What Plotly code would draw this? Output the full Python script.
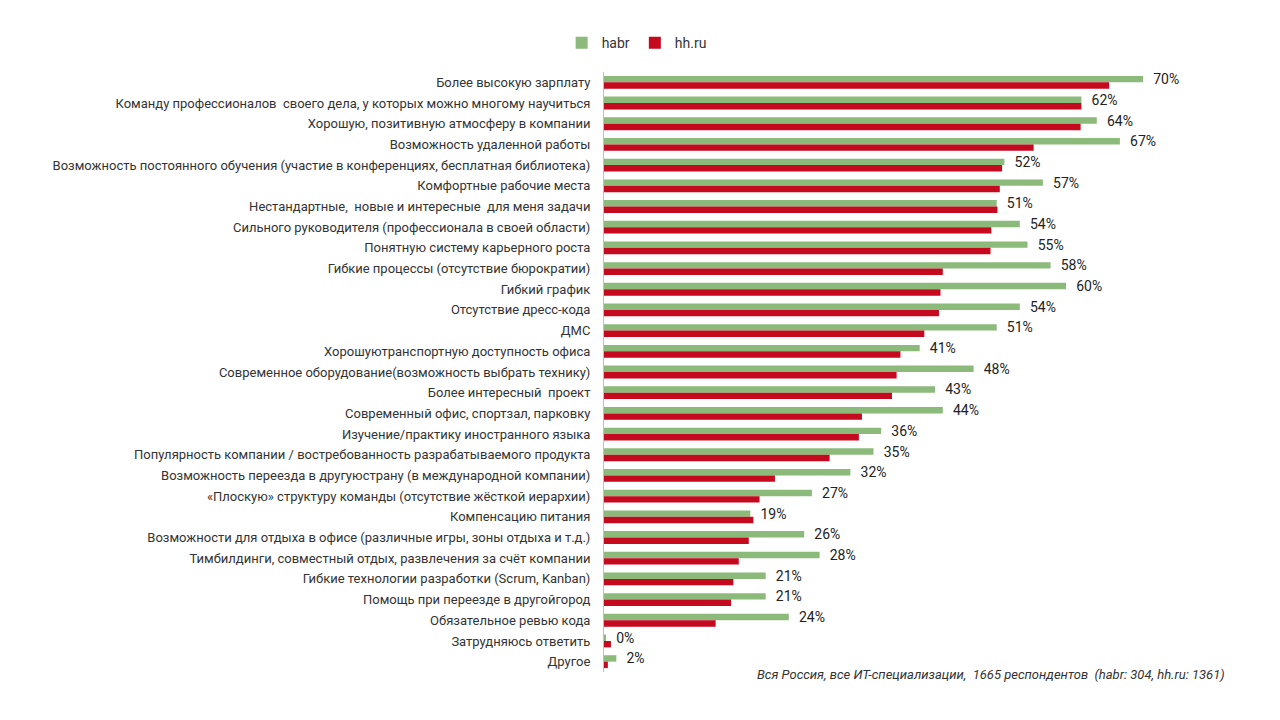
import plotly.graph_objects as go

categories = [
    "Более высокую зарплату",
    "Команду профессионалов  своего дела, у которых можно многому научиться",
    "Хорошую, позитивную атмосферу в компании",
    "Возможность удаленной работы",
    "Возможность постоянного обучения (участие в конференциях, бесплатная библиотека)",
    "Комфортные рабочие места",
    "Нестандартные,  новые и интересные  для меня задачи",
    "Сильного руководителя (профессионала в своей области)",
    "Понятную систему карьерного роста",
    "Гибкие процессы (отсутствие бюрократии)",
    "Гибкий график",
    "Отсутствие дресс-кода",
    "ДМС",
    "Хорошуютранспортную доступность офиса",
    "Современное оборудование(возможность выбрать технику)",
    "Более интересный  проект",
    "Современный офис, спортзал, парковку",
    "Изучение/практику иностранного языка",
    "Популярность компании / востребованность разрабатываемого продукта",
    "Возможность переезда в другуюстрану (в международной компании)",
    "«Плоскую» структуру команды (отсутствие жёсткой иерархии)",
    "Компенсацию питания",
    "Возможности для отдыха в офисе (различные игры, зоны отдыха и т.д.)",
    "Тимбилдинги, совместный отдых, развлечения за счёт компании",
    "Гибкие технологии разработки (Scrum, Kanban)",
    "Помощь при переезде в другойгород",
    "Обязательное ревью кода",
    "Затрудняюсь ответить",
    "Другое",
]

habr = [70, 62, 64, 67, 52, 57, 51, 54, 55, 58, 60, 54, 51, 41, 48, 43, 44,
        36, 35, 32, 27, 19, 26, 28, 21, 21, 24, 0.2, 1.6]

hh = [65.6, 62.0, 61.9, 55.8, 51.7, 51.4, 51.1, 50.3, 50.2, 44.0, 43.7, 43.5,
      41.6, 38.5, 38.0, 37.4, 33.5, 33.1, 29.3, 22.2, 20.2, 19.4, 18.8, 17.5,
      16.8, 16.5, 14.5, 0.9, 0.5]

note = "Вся Россия, все ИТ-специализации,  1665 респондентов  (habr: 304, hh.ru: 1361)"

GREEN = "#8CBA7A"
RED = "#C5091F"

fig = go.Figure()
fig.add_trace(go.Bar(
    y=categories, x=habr, orientation="h", name="habr",
    marker=dict(color=GREEN, line=dict(width=0)),
    text=[f"\u2002{v:.0f}%" for v in habr], textposition="outside",
    constraintext="none",
    textfont=dict(family="Roboto", size=14, color="#222222"),
    cliponaxis=False,
))
fig.add_trace(go.Bar(
    y=categories, x=hh, orientation="h", name="hh.ru",
    marker=dict(color=RED, line=dict(width=0)),
))

fig.update_layout(
    width=1280, height=720,
    barmode="group", bargap=0.38, bargroupgap=0.0,
    plot_bgcolor="white", paper_bgcolor="white",
    margin=dict(l=596, r=68, t=64, b=56, autoexpand=False),
    font=dict(family="Roboto", size=13, color="#333333"),
    legend=dict(orientation="h", x=0.053, xanchor="center", y=1.048, yanchor="middle",
                font=dict(size=14, color="#333333"), itemwidth=30,
                traceorder="normal"),
    xaxis=dict(range=[0, 80], showgrid=False, zeroline=False, showticklabels=False,
               showline=False, ticks=""),
    yaxis=dict(autorange="reversed", showgrid=False, showline=True, linecolor="#BFBFBF",
               linewidth=1, ticks="", ticklabelstandoff=10,
               tickfont=dict(family="Roboto", size=13, color="#333333")),
    annotations=[dict(
        text=note, xref="paper", yref="paper", x=1.012, y=-0.005,
        xanchor="right", yanchor="middle", showarrow=False,
        font=dict(family="Roboto", size=13, color="#333333", style="italic"),
    )],
)

fig.write_html("out.html")
